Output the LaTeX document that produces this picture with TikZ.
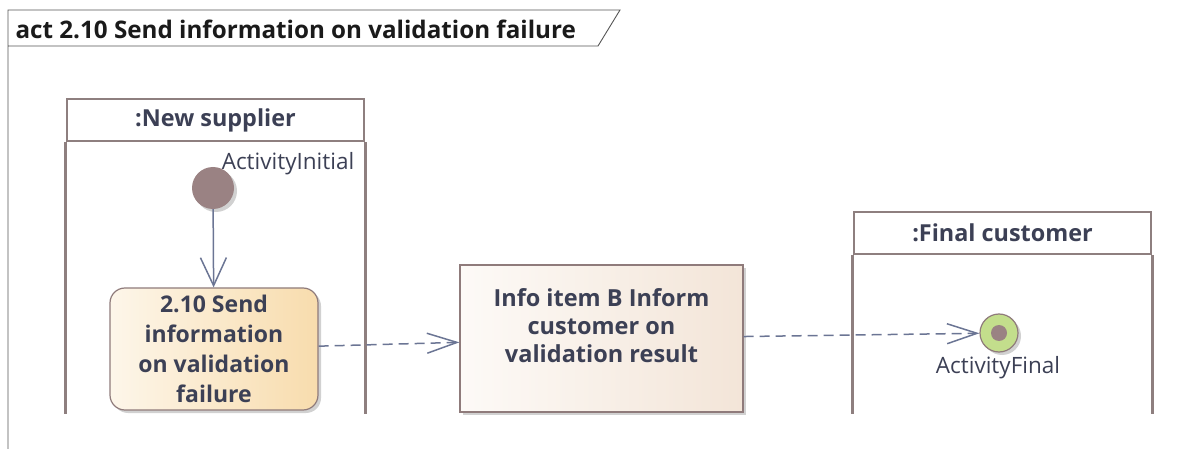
\documentclass[tikz,border=0pt]{standalone}
\usepackage{fontspec}
\setmainfont{Open Sans}
\usetikzlibrary{
  arrows.meta,
  positioning,
  shadows
}
\definecolor{umlInk}{HTML}{3C4055}
\definecolor{umlTitle}{HTML}{1A1A1A}
\definecolor{umlFrame}{HTML}{555555}
\definecolor{umlLane}{HTML}{8E7F7F}
\definecolor{umlBorder}{HTML}{8F7B7B}
\definecolor{umlFlow}{HTML}{6B7594}
\definecolor{umlNode}{HTML}{9A8283}
\definecolor{umlGreen}{HTML}{C3DE8C}
\definecolor{umlCreamL}{HTML}{FDF6EA}
\definecolor{umlCreamR}{HTML}{F8DCAD}
\definecolor{umlInfoL}{HTML}{FDFAF7}
\definecolor{umlInfoR}{HTML}{F3E5D8}
\tikzset{
  every node/.style={text=umlInk},
  softshadow/.style={
    drop shadow={shadow xshift=3pt, shadow yshift=-3pt, opacity=0.3, fill=black!60}
  },
  frameline/.style={draw=umlFrame, line width=0.9pt},
  lanehead/.style={
    draw=umlLane,
    line width=2.6pt,
    fill=white,
    minimum width=297pt,
    minimum height=42pt,
    font=\fontsize{23.4}{28}\selectfont\bfseries
  },
  laneline/.style={draw=umlLane, line width=2.6pt},
  action/.style={
    rounded corners=15pt,
    draw=umlBorder,
    line width=1.2pt,
    left color=umlCreamL,
    right color=umlCreamR,
    softshadow,
    minimum width=208pt,
    minimum height=122pt,
    align=center,
    font=\fontsize{23}{30}\selectfont\bfseries
  },
  infobox/.style={
    draw=umlBorder,
    line width=1.2pt,
    left color=umlInfoL,
    right color=umlInfoR,
    softshadow,
    minimum width=283pt,
    minimum height=147pt
  },
  infotext/.style={
    align=center,
    font=\fontsize{23.5}{28}\selectfont\bfseries
  },
  initial/.style={
    circle,
    fill=umlNode,
    minimum size=42pt,
    inner sep=0pt,
    softshadow
  },
  final/.style={
    circle,
    draw=umlBorder,
    line width=1.2pt,
    fill=umlGreen,
    minimum size=38pt,
    inner sep=0pt,
    softshadow
  },
  finaldot/.style={
    circle,
    fill=umlNode,
    minimum size=16pt,
    inner sep=0pt
  },
  caption/.style={font=\fontsize{22.5}{26}\selectfont},
  flow/.style={
    -{Straight Barb[length=28pt,width=26pt]},
    line width=1.5pt,
    draw=umlFlow
  },
  dashedflow/.style={
    -{Straight Barb[length=30pt,width=20pt]},
    line width=1.5pt,
    draw=umlFlow,
    dash pattern=on 10pt off 6pt
  }
}

\begin{document}
\begin{tikzpicture}[x=1pt, y=-1pt]
  \useasboundingbox (0,0) rectangle (1203,449);

  % diagram frame and its tag
  \draw[frameline] (8,449) -- (8,10) -- (620,10) -- (598,46) -- (8,46);
  \node[anchor=west, text=umlTitle, font=\fontsize{24.2}{28}\selectfont\bfseries] (title) at (12,29)
    {act 2.10 Send information on validation failure};

  % partitions
  \node[lanehead] (supplier) at (215.5,120) {:New supplier};
  \draw[laneline] (supplier.south west) -- ++(0,272);
  \draw[laneline] (supplier.south east) -- ++(0,272);

  \node[lanehead] (customer) at (1002.5,233) {:Final customer};
  \draw[laneline] (customer.south west) -- ++(0,159);
  \draw[laneline] (customer.south east) -- ++(0,159);

  % nodes
  \node[initial] (start) at (213,188) {};
  \node[caption] (startlabel) at (288,164) {ActivityInitial};

  \node[action] (send) at (214,349) {2.10 Send\\information\\on validation\\failure};

  \node[infobox] (info) at (601.5,338.5) {};
  \node[infotext] (infolabel) at (601.5,326) {Info item B Inform\\customer on\\validation result};

  \node[final] (end) at (999,333) {};
  \node[finaldot] (enddot) at (end.center) {};
  \node[caption] (endlabel) at (998,368) {ActivityFinal};

  % flows
  \draw[flow] (start) -- (send);
  \draw[dashedflow] (send) -- (info);
  \draw[dashedflow] (info) -- (end);
\end{tikzpicture}
\end{document}
